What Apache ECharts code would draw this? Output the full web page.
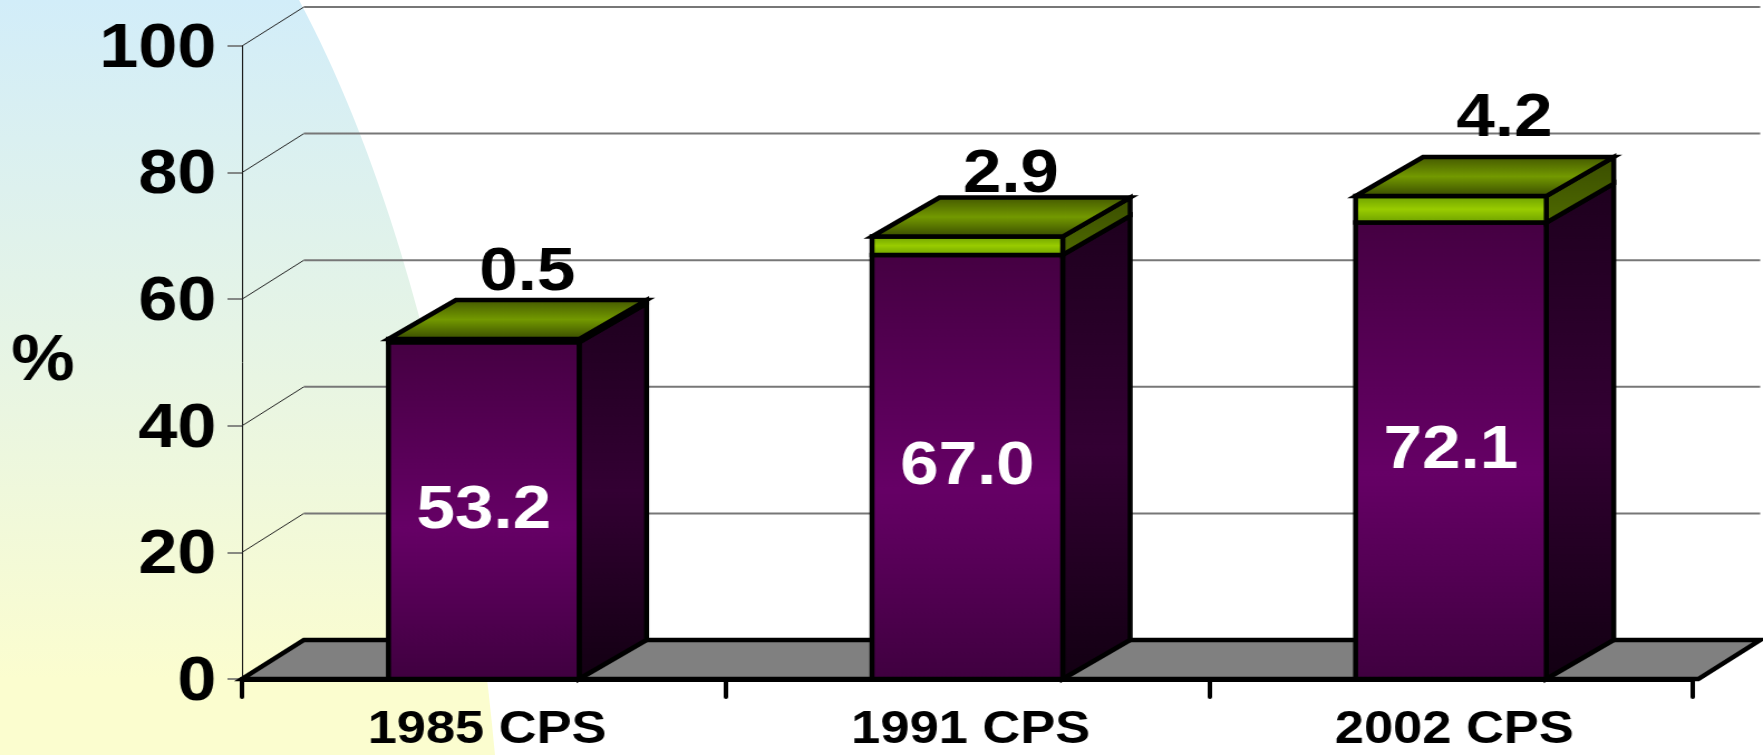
<!DOCTYPE html>
<html>
<head>
<meta charset="utf-8">
<title>CPS</title>
<style>
  html, body { margin: 0; padding: 0; background: #fff; }
  .page { position: relative; width: 1763px; height: 755px; overflow: hidden; }
  .wash {
    position: absolute; left: 0; top: 0; width: 1763px; height: 755px;
    background: linear-gradient(to bottom, #d2edf9 0%, #e8f5e3 50%, #fbfdcf 90%, #fbfdcf 100%);
    clip-path: path('M0 0L299 0C390 170 465 430 495 755L0 755Z');
  }
  /* the original slide is stretched sideways, so draw narrow and widen the lot */
  #chart {
    position: absolute; left: 0; top: 0; width: 1581px; height: 755px;
    transform: scaleX(1.1151); transform-origin: 0 0;
  }
</style>
</head>
<body>
<div class="page">
  <div class="wash"></div>
  <div id="chart"></div>
</div>
<script src="https://cdn.jsdelivr.net/npm/echarts@6/dist/echarts.min.js"></script>
<script>
const categories = ['1985 CPS', '1991 CPS', '2002 CPS']
const lowerValues = [53.2, 67.0, 72.1]
const upperValues = [0.5, 2.9, 4.2]
const yTicks = [0, 20, 40, 60, 80, 100]

// the small top labels were placed by hand in the original, per bar
const topLabelLift = [27, 23, 38]
const topLabelShift = [39, 39, 48]

const FONT = '"Liberation Sans", Arial, sans-serif'
const FLOOR_DX = 55.5
const FLOOR_OVERHANG = 5 // last band is a bit wider than the others in the original
const BAR_DX = 60.5
const DEPTH_DY = 39
const BAR_WIDTH = 171
const EDGE = 4.5

function vGrad(stops) {
  return new echarts.graphic.LinearGradient(0, 0, 0, 1, stops.map(s => ({ offset: s[0], color: s[1] })))
}

const purpleFront = vGrad([[0, '#450042'], [0.55, '#660066'], [1, '#3f003f']])
const purpleSide = vGrad([[0, '#1e001e'], [0.5, '#330033'], [1, '#120012']])
const greenFront = vGrad([[0, '#669900'], [0.5, '#99cc00'], [1, '#669900']])
const greenSide = vGrad([[0, '#3a4d00'], [1, '#4f6a00']])
const olive = vGrad([[0, '#3f5200'], [0.5, '#739900'], [1, '#334400']])

function poly(points, fill) {
  return {
    type: 'polygon',
    shape: { points: points },
    style: { fill: fill, stroke: '#000', lineWidth: EDGE, lineJoin: 'miter' },
  }
}

function renderWall(params, api) {
  const rect = params.coordSys
  const y = api.coord([0, api.value(0)])[1]
  const left = rect.x
  const right = rect.x + rect.width + FLOOR_OVERHANG
  return {
    type: 'group',
    children: [
      {
        type: 'line',
        shape: { x1: left, y1: y, x2: left + FLOOR_DX, y2: y - DEPTH_DY },
        style: { stroke: '#222', lineWidth: 1 },
      },
      {
        type: 'line',
        shape: { x1: left + FLOOR_DX, y1: y - DEPTH_DY, x2: right + FLOOR_DX, y2: y - DEPTH_DY },
        style: { stroke: '#777', lineWidth: 2 },
      },
    ],
  }
}

function renderFloor(params, api) {
  const rect = params.coordSys
  const y = api.coord([0, 0])[1]
  const left = rect.x
  const right = rect.x + rect.width + FLOOR_OVERHANG
  return poly([
    [left, y],
    [right, y],
    [right + FLOOR_DX, y - DEPTH_DY],
    [left + FLOOR_DX, y - DEPTH_DY],
  ], '#808080')
}

function renderBar(params, api) {
  const i = api.value(0)
  const lower = api.value(1)
  const upper = api.value(2)
  const center = api.coord([i, 0])[0]
  const x0 = center - BAR_WIDTH / 2
  const x1 = center + BAR_WIDTH / 2
  const yBase = api.coord([i, 0])[1]
  const yMid = api.coord([i, lower])[1]
  const yTop = api.coord([i, lower + upper])[1]
  const bx = x1 + BAR_DX
  const bl = x0 + BAR_DX
  return {
    type: 'group',
    children: [
      poly([[x1, yBase], [bx, yBase - DEPTH_DY], [bx, yMid - DEPTH_DY], [x1, yMid]], purpleSide),
      poly([[x0, yBase], [x1, yBase], [x1, yMid], [x0, yMid]], purpleFront),
      poly([[x1, yMid], [bx, yMid - DEPTH_DY], [bx, yTop - DEPTH_DY], [x1, yTop]], greenSide),
      poly([[x0, yMid], [x1, yMid], [x1, yTop], [x0, yTop]], greenFront),
      poly([[x0, yTop], [x1, yTop], [bx, yTop - DEPTH_DY], [bl, yTop - DEPTH_DY]], olive),
      {
        type: 'text',
        style: {
          text: lower.toFixed(1),
          x: center,
          y: (yBase + yMid) / 2,
          align: 'center',
          verticalAlign: 'middle',
          fill: '#fff',
          font: 'bold 62px ' + FONT,
        },
      },
      {
        type: 'text',
        style: {
          text: upper.toFixed(1),
          x: center + topLabelShift[i],
          y: yTop - DEPTH_DY - topLabelLift[i],
          align: 'center',
          verticalAlign: 'middle',
          fill: '#000',
          font: 'bold 62px ' + FONT,
        },
      },
    ],
  }
}

const chart = echarts.init(document.getElementById('chart'))
chart.setOption({
  animation: false,
  backgroundColor: 'transparent',
  grid: { left: 217, right: 63, top: 46, bottom: 76, containLabel: false, outerBoundsMode: 'none' },
  xAxis: {
    type: 'category',
    data: categories,
    axisLine: { lineStyle: { color: '#000', width: 5 } },
    axisTick: { show: true, length: 18, lineStyle: { color: '#000', width: 4, cap: 'round' } },
    axisLabel: { color: '#000', fontFamily: FONT, fontWeight: 'bold', fontSize: 47, margin: 28, padding: [0, 0, 0, 6] },
  },
  yAxis: {
    type: 'value',
    min: 0,
    max: 100,
    interval: 20,
    name: '%',
    nameLocation: 'middle',
    nameRotate: 0,
    nameGap: 150,
    nameTextStyle: { color: '#000', fontFamily: FONT, fontWeight: 'bold', fontSize: 64, padding: [4, 0, 0, 0] },
    axisLine: { show: true, lineStyle: { color: '#111', width: 1 } },
    axisTick: { show: true, length: 13, lineStyle: { color: '#666', width: 1.5 } },
    // top-aligned with a tiny line height: sits a few px under the tick like the original
    axisLabel: { color: '#000', fontFamily: FONT, fontWeight: 'bold', fontSize: 63, margin: 23, verticalAlign: 'top', lineHeight: 7 },
    splitLine: { show: false },
  },
  series: [
    {
      type: 'custom',
      name: 'wall',
      z: 1,
      silent: true,
      renderItem: renderWall,
      data: yTicks.map(v => [v]),
      encode: { y: 0 },
    },
    {
      type: 'custom',
      name: 'floor',
      z: 2,
      silent: true,
      renderItem: renderFloor,
      data: [[0]],
      encode: { y: 0 },
    },
    {
      type: 'custom',
      name: 'bars',
      z: 3,
      renderItem: renderBar,
      data: categories.map((c, i) => [i, lowerValues[i], upperValues[i]]),
      encode: { x: 0, y: 1 },
    },
  ],
})
</script>
</body>
</html>
